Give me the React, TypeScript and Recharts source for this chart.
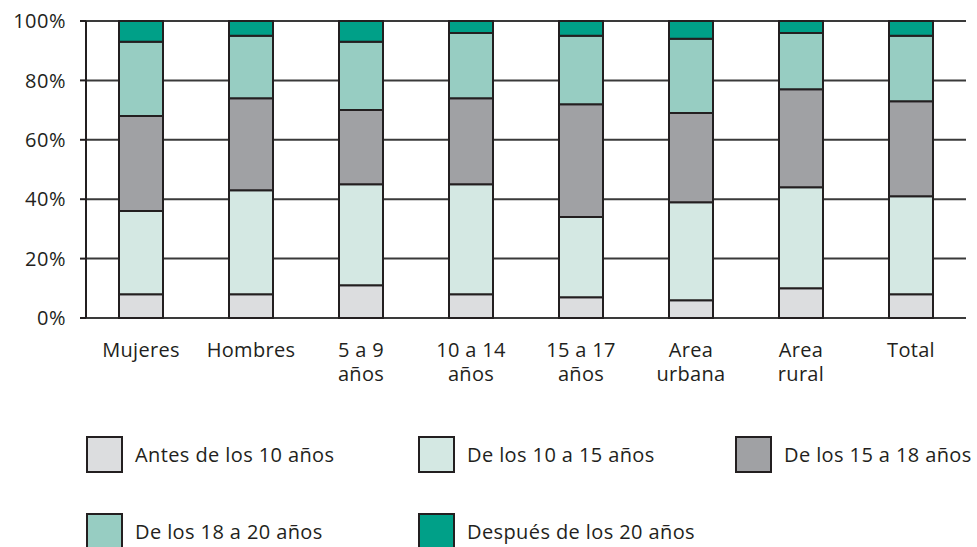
import React from "react";
import { BarChart, Bar, XAxis, YAxis, CartesianGrid, Legend } from "recharts";

// categories (line breaks = second line of the axis label)
const categories = [
  "Mujeres",
  "Hombres",
  "5 a 9\naños",
  "10 a 14\naños",
  "15 a 17\naños",
  "Area\nurbana",
  "Area\nrural",
  "Total",
];

// percentages per age group
const antes10 = [8, 8, 11, 8, 7, 6, 10, 8];
const de10a15 = [28, 35, 34, 37, 27, 33, 34, 33];
const de15a18 = [32, 31, 25, 29, 38, 30, 33, 32];
const de18a20 = [25, 21, 23, 22, 23, 25, 19, 22];
const despues20 = [7, 5, 7, 4, 5, 6, 4, 5];

const yTicks = [0, 20, 40, 60, 80, 100];
const boundaryTicks = [0, 1, 2, 3, 4, 5, 6, 7, 8];

const series = [
  { key: "antes10", name: "Antes de los 10 años", color: "#dcdddf" },
  { key: "de10a15", name: "De los 10 a 15 años", color: "#d4e8e3" },
  { key: "de15a18", name: "De los 15 a 18 años", color: "#a0a1a4" },
  { key: "de18a20", name: "De los 18 a 20 años", color: "#97cdc2" },
  { key: "despues20", name: "Después de los 20 años", color: "#00a088" },
];

const data = categories.map((name, i) => ({
  name,
  pos: i + 0.5,
  antes10: antes10[i],
  de10a15: de10a15[i],
  de15a18: de15a18[i],
  de18a20: de18a20[i],
  despues20: despues20[i],
}));

const INK = "#231f20";
const FONT = "'Open Sans', sans-serif";

const CategoryTick = ({ x, y, payload }: any) => {
  const lines = String(payload.value).split("\n");
  return (
    <g>
      {lines.map((line, i) => (
        <text
          key={i}
          x={x}
          y={y + 39 + i * 24}
          textAnchor="middle"
          fill={INK}
          fontSize={20}
          letterSpacing={0.3}
          fontFamily={FONT}
        >
          {line}
        </text>
      ))}
    </g>
  );
};

// legend positions: 3 items on the first row, 2 on the second
const legendSpots = [
  { left: 86, top: 11 },
  { left: 418, top: 11 },
  { left: 735, top: 11 },
  { left: 86, top: 88 },
  { left: 418, top: 88 },
];

const renderLegend = () => (
  <div style={{ position: "relative", width: 966, height: 122 }}>
    {series.map((s, i) => (
      <div
        key={s.key}
        style={{
          position: "absolute",
          left: legendSpots[i].left,
          top: legendSpots[i].top,
          display: "flex",
          alignItems: "center",
          whiteSpace: "nowrap",
        }}
      >
        <div
          style={{
            width: 37,
            height: 37,
            boxSizing: "border-box",
            border: `2px solid ${INK}`,
            background: s.color,
          }}
        />
        <span
          style={{
            marginLeft: 12,
            fontSize: 20,
            letterSpacing: 0.4,
            fontFamily: FONT,
            color: INK,
          }}
        >
          {s.name}
        </span>
      </div>
    ))}
  </div>
);

export default function App() {
  return (
    <div
      style={{
        position: "absolute",
        left: 0,
        top: 0,
        width: 977,
        height: 547,
        background: "#fff",
        fontFamily: FONT,
      }}
    >
      <BarChart
        width={977}
        height={547}
        data={data}
        barCategoryGap={0}
        margin={{ top: 21, right: 11, left: 0, bottom: 0 }}
      >
        <CartesianGrid vertical={false} stroke="#3a3a3a" strokeWidth={2} />
        <XAxis
          xAxisId="ticks"
          type="number"
          dataKey="pos"
          domain={[0, 8]}
          ticks={boundaryTicks}
          tick={false}
          tickSize={7}
          height={0}
          axisLine={{ stroke: INK, strokeWidth: 2 }}
          tickLine={{ stroke: INK, strokeWidth: 2 }}
        />
        <XAxis
          xAxisId="cat"
          dataKey="name"
          axisLine={false}
          tickLine={false}
          tickSize={0}
          tickMargin={0}
          height={107}
          interval={0}
          tick={<CategoryTick />}
        />
        <YAxis
          domain={[0, 100]}
          ticks={yTicks}
          width={86}
          tickSize={6}
          tickMargin={14}
          tickFormatter={(v) => `${v}%`}
          axisLine={{ stroke: INK, strokeWidth: 2 }}
          tickLine={{ stroke: INK, strokeWidth: 2 }}
          tick={{ fill: INK, fontSize: 20, fontFamily: FONT, letterSpacing: 0.5 }}
        />
        <Legend
          verticalAlign="bottom"
          content={renderLegend}
          wrapperStyle={{ height: 122 }}
        />
        {series.map((s) => (
          <Bar
            key={s.key}
            xAxisId="cat"
            dataKey={s.key}
            name={s.name}
            stackId="a"
            fill={s.color}
            stroke={INK}
            strokeWidth={2}
            barSize={44}
            isAnimationActive={false}
          />
        ))}
      </BarChart>
    </div>
  );
}
